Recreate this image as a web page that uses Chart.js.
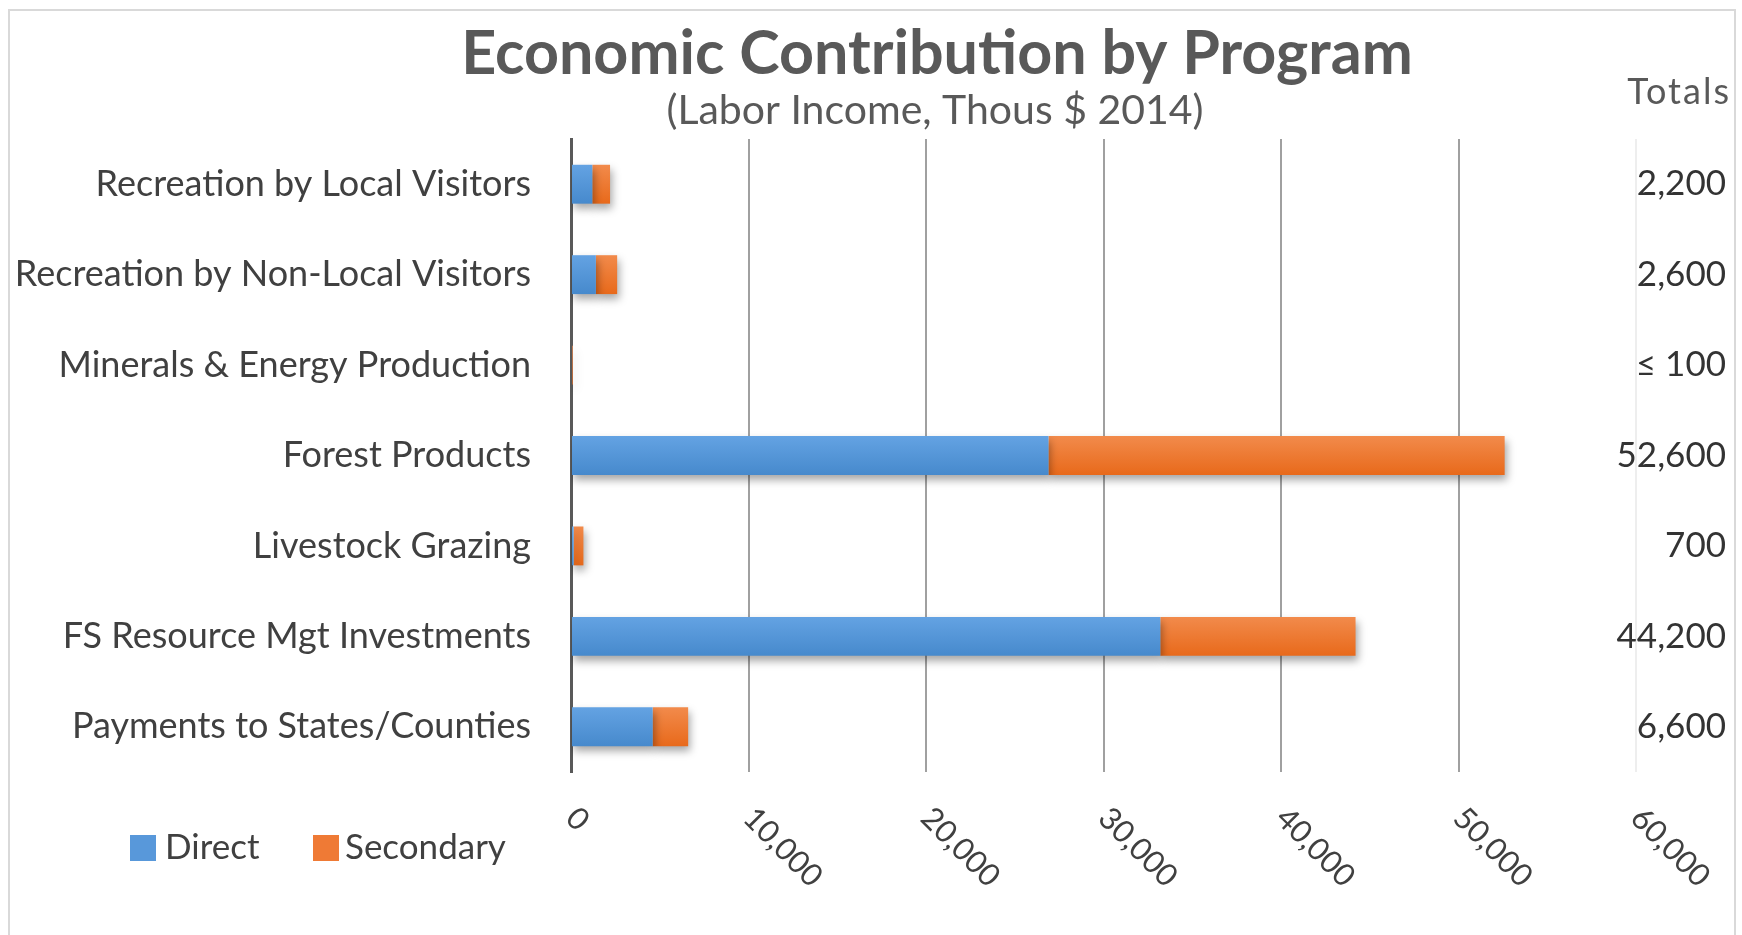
<!DOCTYPE html>
<html>
<head>
<meta charset="utf-8">
<script src="https://cdn.jsdelivr.net/npm/chart.js@4/dist/chart.umd.min.js"></script>
<style>
  html, body { margin: 0; padding: 0; background: #fff; overflow: hidden; }
  #frame { position: absolute; left: 8px; top: 9px; width: 1728px; height: 940px; border: 2px solid #d9d9d9; box-sizing: border-box; }
  #c { position: absolute; left: 0; top: 0; }
</style>
</head>
<body>
<div id="frame"></div>
<canvas id="c" width="1742" height="935"></canvas>
<script>
// data (thousand $)
const categories = ['Recreation by Local Visitors', 'Recreation by Non-Local Visitors', 'Minerals & Energy Production',
  'Forest Products', 'Livestock Grazing', 'FS Resource Mgt Investments', 'Payments to States/Counties'];
const directValues = [1200, 1400, 60, 26900, 150, 33200, 4600];
const secondaryValues = [1000, 1200, 40, 25700, 550, 11000, 2000];
const totalLabels = ['2,200', '2,600', '\u2264 100', '52,600', '700', '44,200', '6,600'];
const xMax = 60000;
const xStep = 10000;

const FONT = 'Lato, "Open Sans", sans-serif';

// vertical gradient for each bar
function barFill(top, bottom) {
  return function(context) {
    const chart = context.chart;
    const y = chart.scales.y;
    if (!y || !chart.chartArea || context.dataIndex === undefined) return top;
    const cy = y.getPixelForValue(context.dataIndex);
    if (!Number.isFinite(cy)) return top;
    const h = 20;
    const g = chart.ctx.createLinearGradient(0, cy - h, 0, cy + h);
    g.addColorStop(0, top);
    g.addColorStop(1, bottom);
    return g;
  };
}

// drop shadow under the bars
const shadowPlugin = {
  id: 'shadow',
  beforeDatasetsDraw(chart) {
    const ctx = chart.ctx;
    ctx.save();
    ctx.shadowColor = 'rgba(0,0,0,0.35)';
    ctx.shadowBlur = 8;
    ctx.shadowOffsetX = 2;
    ctx.shadowOffsetY = 5;
  },
  afterDatasetsDraw(chart) {
    chart.ctx.restore();
  }
};

// titles, totals column, rotated x labels, legend
const decoPlugin = {
  id: 'deco',
  afterDraw(chart) {
    const ctx = chart.ctx;
    const x = chart.scales.x;
    const y = chart.scales.y;
    ctx.save();

    ctx.fillStyle = '#595959';
    ctx.textAlign = 'center';
    ctx.textBaseline = 'middle';
    ctx.font = 'bold 61px ' + FONT;
    ctx.fillText('Economic Contribution by Program', 937, 54);
    ctx.font = '41px ' + FONT;
    ctx.fillText('(Labor Income, Thous $ 2014)', 935, 111);

    // totals
    ctx.textAlign = 'right';
    ctx.font = '36px ' + FONT;
    ctx.letterSpacing = '2px';
    ctx.fillText('Totals', 1731, 92);
    ctx.letterSpacing = '0px';
    ctx.fillStyle = '#333';
    ctx.font = '35px ' + FONT;
    totalLabels.forEach((t, i) => {
      ctx.fillText(t, 1726, y.getPixelForValue(i));
    });

    // x tick labels, rotated down-right
    ctx.fillStyle = '#404040';
    ctx.font = '31px ' + FONT;
    ctx.textAlign = 'left';
    ctx.textBaseline = 'middle';
    x.ticks.forEach(t => {
      const px = x.getPixelForValue(t.value);
      ctx.save();
      ctx.translate(px, 813);
      ctx.rotate(Math.PI / 4);
      ctx.fillText(t.value.toLocaleString('en-US'), 0, 0);
      ctx.restore();
    });

    // legend
    ctx.font = '35px ' + FONT;
    const items = [
      { ds: 0, box: 130, text: 165 },
      { ds: 1, box: 313, text: 345 }
    ];
    items.forEach(it => {
      const ds = chart.data.datasets[it.ds];
      ctx.fillStyle = ds.legendColor;
      ctx.fillRect(it.box, 835, 26, 26);
      ctx.fillStyle = '#404040';
      ctx.fillText(ds.label, it.text, 848);
    });
    ctx.restore();
  }
};

new Chart(document.getElementById('c'), {
  type: 'bar',
  data: {
    labels: categories,
    datasets: [
      {
        label: 'Direct',
        data: directValues,
        backgroundColor: barFill('#64a3e3', '#4689cc'),
        legendColor: '#5898da',
        barPercentage: 0.43,
        categoryPercentage: 1
      },
      {
        label: 'Secondary',
        data: secondaryValues,
        backgroundColor: barFill('#f28b4c', '#e8691a'),
        legendColor: '#ef7a35',
        barPercentage: 0.43,
        categoryPercentage: 1
      }
    ]
  },
  options: {
    indexAxis: 'y',
    responsive: false,
    animation: false,
    layout: { padding: { left: 0, right: 106, top: 139, bottom: 163 } },
    plugins: {
      legend: { display: false },
      title: { display: false },
      tooltip: { enabled: false }
    },
    scales: {
      x: {
        stacked: true,
        min: 0,
        max: xMax,
        ticks: { stepSize: xStep, display: false },
        grid: {
          drawTicks: false,
          lineWidth: 2,
          color: (c) => c.tick && c.tick.value === xMax ? '#eeeeee' : '#a0a0a0'
        },
        border: { display: false },
        afterFit(scale) { scale.height = 0; }
      },
      y: {
        stacked: true,
        ticks: {
          color: '#404040',
          font: { family: FONT, size: 36 },
          padding: 40
        },
        grid: { display: false, drawTicks: false },
        border: { display: true, color: '#595959', width: 3 },
        afterFit(scale) { scale.width = 571; }
      }
    }
  },
  plugins: [shadowPlugin, decoPlugin]
});
</script>
</body>
</html>
